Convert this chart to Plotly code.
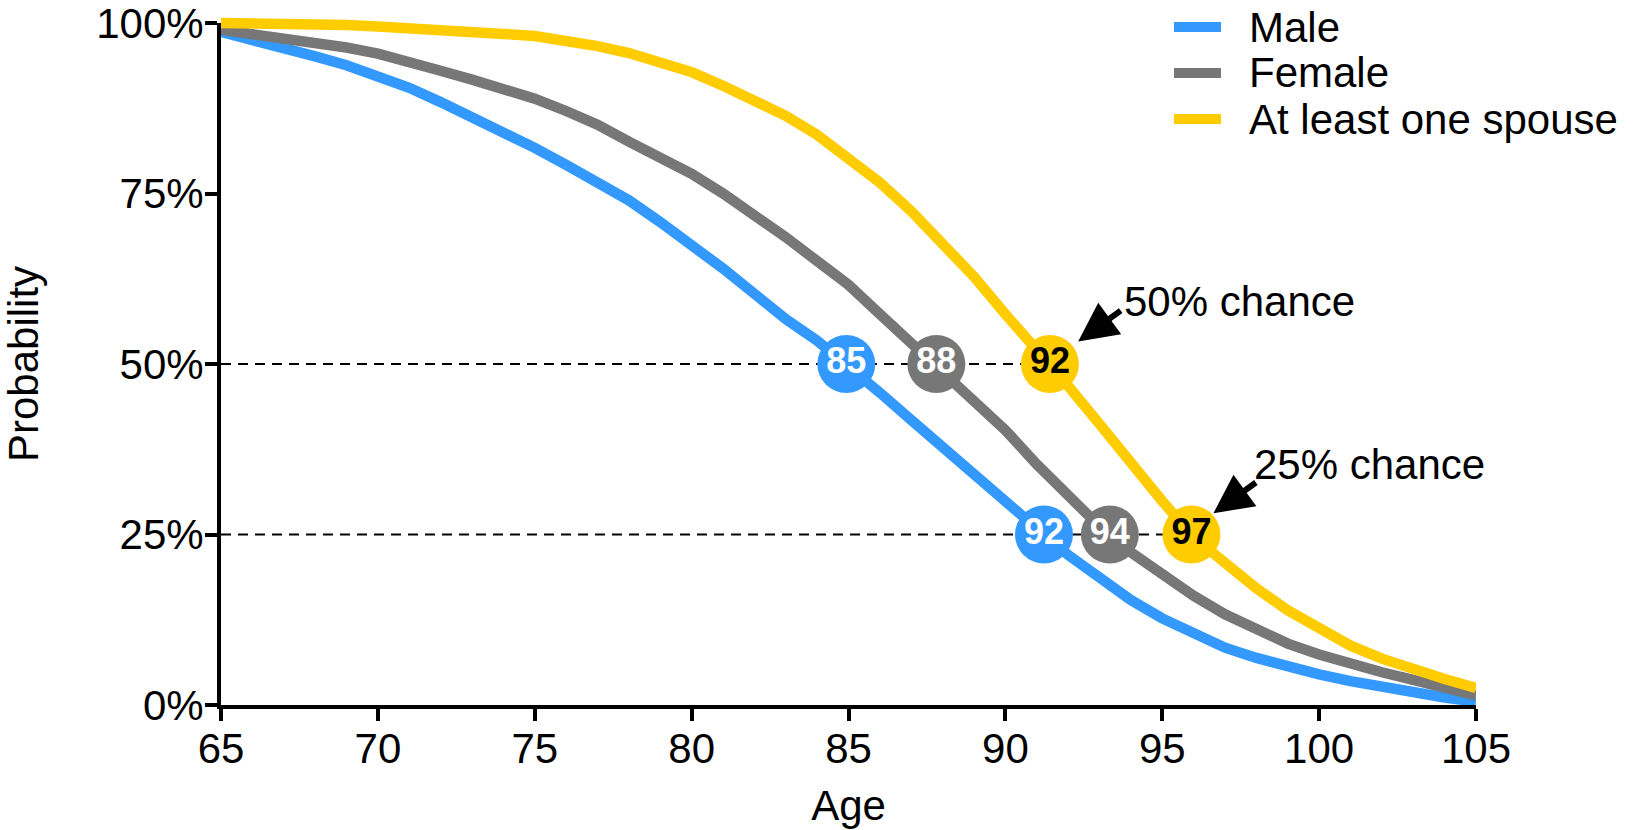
import plotly.graph_objects as go

# ---------------- data ----------------
ages = list(range(65, 106))
male = [98.7, 97.6, 96.4, 95.1, 93.8, 92.2, 90.5, 88.4, 86.3, 84.1,
        81.7, 79.2, 76.6, 74.0, 70.8, 67.5, 64.0, 60.3, 56.6, 53.4,
        49.7, 45.8, 41.8, 37.7, 33.7, 29.8, 25.9, 22.0, 18.5, 15.4,
        12.7, 10.4, 8.4, 6.9, 5.6, 4.5, 3.5, 2.6, 1.8, 1.1, 0.5]
female = [99.0, 98.4, 97.8, 97.1, 96.4, 95.5, 94.4, 93.0, 91.7, 90.3,
          88.9, 87.1, 85.1, 82.6, 80.3, 77.9, 75.0, 71.9, 68.6, 65.1,
          61.6, 57.3, 53.0, 49.2, 44.8, 40.3, 35.3, 30.7, 26.2, 22.4,
          19.0, 16.0, 13.3, 11.0, 9.0, 7.4, 6.0, 4.8, 3.7, 2.5, 1.4]
spouse = [100.0, 100.0, 99.9, 99.8, 99.7, 99.5, 99.3, 99.0, 98.7, 98.4,
          98.1, 97.5, 96.6, 95.6, 94.3, 92.8, 90.8, 88.8, 86.4, 83.6,
          80.3, 76.6, 72.4, 67.8, 62.8, 57.3, 52.2, 46.8, 41.2, 35.4,
          29.9, 24.6, 20.6, 17.1, 13.9, 11.2, 8.7, 6.8, 5.2, 3.8, 2.5]

series_names = ["Male", "Female", "At least one spouse"]
series_values = [male, female, spouse]
series_colors = ["#3399FF", "#777777", "#FFCC00"]
label_colors = ["white", "white", "black"]

levels = [50, 25]
# ages at which each series crosses the level, and the labels shown
cross_ages = {50: [84.93, 87.8, 91.42], 25: [91.23, 93.33, 95.93]}
cross_labels = {50: ["85", "88", "92"], 25: ["92", "94", "97"]}

x_ticks = [65, 70, 75, 80, 85, 90, 95, 100, 105]
y_ticks = [0, 25, 50, 75, 100]
y_ticktext = ["0%", "25%", "50%", "75%", "100%"]

chance_text = {50: "50% chance", 25: "25% chance"}
arrow_head = {50: (92.32, 53.3), 25: (96.63, 28.1)}
text_pos = {50: (93.71, 59.1), 25: (97.87, 35.2)}

# ---------------- layout geometry ----------------
W, H = 1635, 830
ML, MR, MT, MB = 221, 159, 12, 125
PH = H - MT - MB
main_top_px = 23
d = (H - MB - main_top_px) / PH
FONT = "Liberation Sans, Arial, sans-serif"
FS = 42

fig = go.Figure()

# dashed reference lines
for lv in levels:
    fig.add_trace(go.Scatter(
        x=[ages[0], max(cross_ages[lv])], y=[lv, lv], mode="lines",
        line=dict(color="black", width=2, dash="10px,7px"),
        xaxis="x", yaxis="y3", showlegend=False, hoverinfo="skip"))

# curves
for name, vals, col in zip(series_names, series_values, series_colors):
    fig.add_trace(go.Scatter(
        x=ages, y=vals, mode="lines", name=name,
        line=dict(color=col, width=10.5),
        xaxis="x", yaxis="y3", showlegend=False))

# crossing markers
for lv in levels:
    for i in range(3):
        fig.add_trace(go.Scatter(
            x=[cross_ages[lv][i]], y=[lv], mode="markers+text",
            marker=dict(size=58, color=series_colors[i]),
            text=[cross_labels[lv][i]], textposition="middle center",
            textfont=dict(family=FONT, size=36, color=label_colors[i], weight="bold"),
            cliponaxis=False, xaxis="x", yaxis="y3", showlegend=False))

# dummy trace for crossing-tick overlay axes
fig.add_trace(go.Scatter(x=[None], y=[None], xaxis="x2", yaxis="y2",
                         showlegend=False, hoverinfo="skip"))

axis_common = dict(showgrid=False, zeroline=False, color="black", automargin=False)

fig.update_layout(
    template="none",
    width=W, height=H,
    margin=dict(l=ML, r=MR, t=MT, b=MB, autoexpand=False),
    paper_bgcolor="white", plot_bgcolor="white",
    font=dict(family=FONT, size=FS, color="black"),
    xaxis=dict(domain=[0, 1], anchor="y", range=[65, 105],
               tickvals=x_ticks, showline=True, linecolor="black", linewidth=4,
               ticks="outside", ticklen=12, tickwidth=4, tickcolor="black",
               tickfont=dict(size=FS), ticklabelstandoff=-8,
               ticklabeloverflow="allow",
               title=dict(text="Age", font=dict(size=FS), standoff=20),
               **axis_common),
    yaxis=dict(domain=[0, d], anchor="x", range=[0, 100],
               tickvals=y_ticks, ticktext=y_ticktext,
               showline=True, linecolor="black", linewidth=4,
               ticks="outside", ticklen=12, tickwidth=4, tickcolor="black",
               tickfont=dict(size=FS), ticklabelstandoff=-7,
               ticklabeloverflow="allow",
               title=dict(text="Probability", font=dict(size=FS), standoff=52),
               **axis_common),
    xaxis2=dict(overlaying="x", anchor="y", side="bottom", range=[65, 105],
                tickvals=x_ticks, ticks="inside", ticklen=12, tickwidth=4,
                tickcolor="black", showticklabels=False, showline=False,
                **axis_common),
    yaxis2=dict(overlaying="y", anchor="x", side="left", range=[0, 100],
                tickvals=y_ticks, ticks="inside", ticklen=12, tickwidth=4,
                tickcolor="black", showticklabels=False, showline=False,
                **axis_common),
    yaxis3=dict(domain=[0, 1], anchor="x", range=[0, 100 / d], visible=False,
                **axis_common),
    showlegend=False,
)

# arrows and "chance" texts
for lv in levels:
    hx, hy = arrow_head[lv]
    fig.add_annotation(x=hx, y=hy, xref="x", yref="y", text="", showarrow=True,
                       ax=44, ay=-32, axref="pixel", ayref="pixel",
                       arrowhead=2, arrowsize=1.3, arrowwidth=6, arrowcolor="black")
    tx, ty = text_pos[lv]
    fig.add_annotation(x=tx, y=ty, xref="x", yref="y", text=chance_text[lv],
                       showarrow=False, xanchor="left", yanchor="middle",
                       font=dict(size=FS, color="black"))

# manual legend (positions given in window pixels)
def px_to_paper_x(px):
    return (px - ML) / (W - ML - MR)

def px_to_paper_y(py):
    return (H - MB - py) / PH

leg_rows_px = [27, 73, 119]
for name, col, ry in zip(series_names, series_colors, leg_rows_px):
    yp = px_to_paper_y(ry)
    fig.add_shape(type="line", xref="paper", yref="paper",
                  x0=px_to_paper_x(1174), x1=px_to_paper_x(1221), y0=yp, y1=yp,
                  line=dict(color=col, width=10))
    fig.add_annotation(x=px_to_paper_x(1247), y=yp, xref="paper", yref="paper",
                       text=name, showarrow=False, xanchor="left", yanchor="middle",
                       font=dict(size=FS, color="black"))

fig.write_html("out.html",
               config={"displayModeBar": False},
               post_script="document.body.style.margin='0';document.body.style.padding='0';")
